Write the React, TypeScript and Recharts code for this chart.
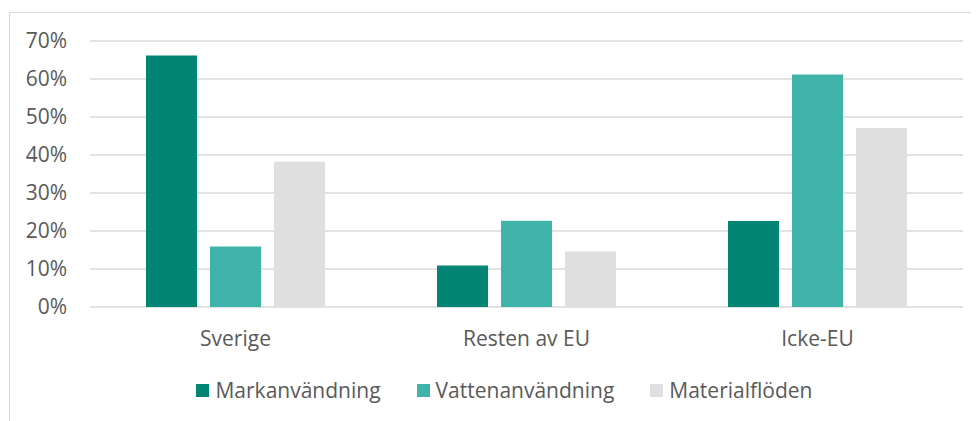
import React from "react";
import { BarChart, Bar, XAxis, YAxis, CartesianGrid, Legend } from "recharts";

// Shares per region, in percent.
const regions = ["Sverige", "Resten av EU", "Icke-EU"];
const markanvandning = [66.2, 10.9, 22.6];
const vattenanvandning = [15.9, 22.7, 61.2];
const materialfloden = [38.2, 14.6, 47.1];
const yTicks = [0, 10, 20, 30, 40, 50, 60, 70];

const series = [
  { key: "mark", name: "Markanvändning", color: "#028575" },
  { key: "vatten", name: "Vattenanvändning", color: "#3fb3aa" },
  { key: "material", name: "Materialflöden", color: "#dfdfdf" },
];

const TEXT = "#595959";
const GRID = "#d9d9d9";
const FONT = "'Open Sans', sans-serif";

const rows = regions.map((region, i) => ({
  region,
  mark: markanvandning[i],
  vatten: vattenanvandning[i],
  material: materialfloden[i],
}));

// The legend wrapper only spans the chart minus its right margin, but the
// reference centres the legend on the whole frame, hence the left padding.
function LegendRow() {
  return (
    <div
      style={{
        display: "flex",
        justifyContent: "center",
        paddingTop: 40,
        paddingLeft: 36,
        fontFamily: FONT,
        fontSize: 21,
        color: TEXT,
        lineHeight: "27px",
      }}
    >
      {series.map((s, i) => (
        <span
          key={s.key}
          style={{ display: "inline-flex", alignItems: "center", marginLeft: i === 0 ? 0 : 36 }}
        >
          <span style={{ width: 13, height: 13, background: s.color, marginRight: 6, display: "inline-block" }} />
          {s.name}
        </span>
      ))}
    </div>
  );
}

export default function App() {
  return (
    // the frame runs past the window on the right and bottom, so clip it
    <div style={{ width: 971, height: 413, overflow: "hidden" }}>
      <div
        style={{
          marginLeft: 1,
          marginTop: 4,
          width: 990,
          height: 420,
          border: `1px solid ${GRID}`,
          background: "#fff",
        }}
      >
        <BarChart
          width={990}
          height={400}
          data={rows}
          margin={{ top: 28, right: 37, left: 0, bottom: 0 }}
          barCategoryGap={56}
          barGap={13}
        >
          <CartesianGrid vertical={false} stroke={GRID} strokeWidth={1.3} />
          <XAxis
            dataKey="region"
            height={30}
            axisLine={false}
            tickLine={false}
            tickMargin={18}
            tick={{ fill: TEXT, fontSize: 21, fontFamily: FONT }}
          />
          <YAxis
            width={80}
            domain={[0, 70]}
            ticks={yTicks}
            axisLine={false}
            tickLine={false}
            tickMargin={17}
            tickFormatter={(v) => `${v}%`}
            tick={{ fill: TEXT, fontSize: 21, fontFamily: FONT }}
          />
          <Legend verticalAlign="bottom" height={76} content={() => <LegendRow />} />
          {series.map((s) => (
            <Bar key={s.key} dataKey={s.key} name={s.name} fill={s.color} isAnimationActive={false} />
          ))}
        </BarChart>
      </div>
    </div>
  );
}
